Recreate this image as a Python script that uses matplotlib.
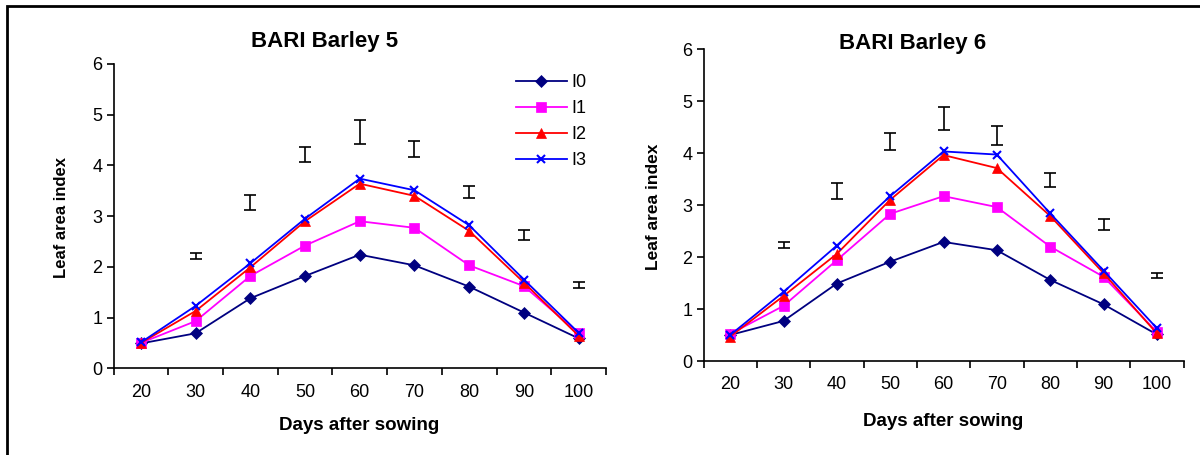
import numpy as np
import matplotlib
matplotlib.use("Agg")
import matplotlib.pyplot as plt
from matplotlib.patches import Rectangle

plt.rcParams['font.family'] = ['Liberation Sans', 'DejaVu Sans']

days = [20, 30, 40, 50, 60, 70, 80, 90, 100]
labels = ['I0', 'I1', 'I2', 'I3']

# BARI Barley 5
b5_i0 = [0.49, 0.69, 1.38, 1.82, 2.24, 2.03, 1.61, 1.10, 0.59]
b5_i1 = [0.50, 0.93, 1.82, 2.42, 2.90, 2.77, 2.03, 1.62, 0.69]
b5_i2 = [0.50, 1.13, 1.99, 2.90, 3.64, 3.40, 2.71, 1.69, 0.64]
b5_i3 = [0.51, 1.23, 2.07, 2.95, 3.74, 3.51, 2.82, 1.75, 0.70]
b5_err_mid = [2.22, 3.27, 4.22, 4.66, 4.33, 3.48, 2.62, 1.65]
b5_err_half = [0.06, 0.15, 0.15, 0.23, 0.16, 0.12, 0.10, 0.06]

# BARI Barley 6
b6_i0 = [0.50, 0.77, 1.49, 1.91, 2.29, 2.13, 1.56, 1.09, 0.51]
b6_i1 = [0.52, 1.06, 1.94, 2.83, 3.17, 2.96, 2.20, 1.62, 0.56]
b6_i2 = [0.47, 1.25, 2.06, 3.10, 3.96, 3.71, 2.79, 1.69, 0.53]
b6_i3 = [0.50, 1.33, 2.22, 3.17, 4.03, 3.97, 2.84, 1.74, 0.63]
b6_err_mid = [2.23, 3.27, 4.22, 4.66, 4.33, 3.48, 2.62, 1.65]
b6_err_half = [0.06, 0.16, 0.16, 0.22, 0.18, 0.14, 0.11, 0.05]

colors = ['#000080', '#FF00FF', '#FF0000', '#0000FF']
markers = ['D', 's', '^', 'x']
msizes = [6, 6.5, 7.5, 6]

W, H = 1200, 455
fig = plt.figure(figsize=(W / 100, H / 100), dpi=100)


def px(x0, y_top, x1, y_bot):
    return [x0 / W, 1 - y_bot / H, (x1 - x0) / W, (y_bot - y_top) / H]


def draw_panel(ax, series, err_mid, err_half):
    x = np.arange(len(days))
    for vals, c, m, ms, lab in zip(series, colors, markers, msizes, labels):
        ax.plot(x, vals, color=c, marker=m, markersize=ms, lw=1.3,
                markeredgewidth=1.5 if m == 'x' else 0.5, label=lab)
    ax.errorbar(x[1:], err_mid, yerr=err_half, fmt='none', ecolor='black',
                elinewidth=1.2, capsize=4, capthick=1.2)
    ax.set_xlim(-0.5, len(days) - 0.5)
    ax.set_ylim(0, 6)
    ax.set_xticks(np.arange(len(days) + 1) - 0.5)
    ax.set_xticklabels([])
    ax.set_xticks(x, minor=True)
    ax.set_xticklabels([str(d) for d in days], minor=True, fontsize=13)
    ax.tick_params(axis='x', which='minor', length=0, pad=11)
    ax.tick_params(axis='x', which='major', length=5, width=1.2, direction='out')
    ax.set_yticks(range(7))
    ax.tick_params(axis='y', length=5, width=1.2, labelsize=13, pad=3)
    for s in ['top', 'right']:
        ax.spines[s].set_visible(False)
    for s in ['left', 'bottom']:
        ax.spines[s].set_linewidth(1.2)


ax1 = fig.add_axes(px(113.5, 64, 606, 368.3))
draw_panel(ax1, [b5_i0, b5_i1, b5_i2, b5_i3], b5_err_mid, b5_err_half)
ax2 = fig.add_axes(px(703.5, 49, 1183.5, 361))
draw_panel(ax2, [b6_i0, b6_i1, b6_i2, b6_i3], b6_err_mid, b6_err_half)

fig.text(325 / W, 1 - 41 / H, 'BARI Barley 5', ha='center', va='center',
         fontsize=16, fontweight='bold')
fig.text(913 / W, 1 - 43 / H, 'BARI Barley 6', ha='center', va='center',
         fontsize=16, fontweight='bold')
fig.text(359 / W, 1 - 425 / H, 'Days after sowing', ha='center', va='center',
         fontsize=13.5, fontweight='bold')
fig.text(943 / W, 1 - 422 / H, 'Days after sowing', ha='center', va='center',
         fontsize=13.5, fontweight='bold')
fig.text(61 / W, 1 - 217 / H, 'Leaf area index', ha='center', va='center',
         rotation=90, fontsize=12, fontweight='bold')
fig.text(654 / W, 1 - 207 / H, 'Leaf area index', ha='center', va='center',
         rotation=90, fontsize=12.5, fontweight='bold')

ax1.legend(loc='upper left', bbox_to_anchor=(516 / W, 1 - 74 / H),
           bbox_transform=fig.transFigure, frameon=False, fontsize=13,
           borderpad=0, borderaxespad=0, handlelength=2.8,
           handletextpad=0.25, labelspacing=0.5)

fig.add_artist(Rectangle((7 / W, -0.1), 1.2, 1.1 - 6 / H, fill=False,
                         lw=2, edgecolor='black', transform=fig.transFigure,
                         clip_on=False))

fig.savefig('out.png', dpi=100)
